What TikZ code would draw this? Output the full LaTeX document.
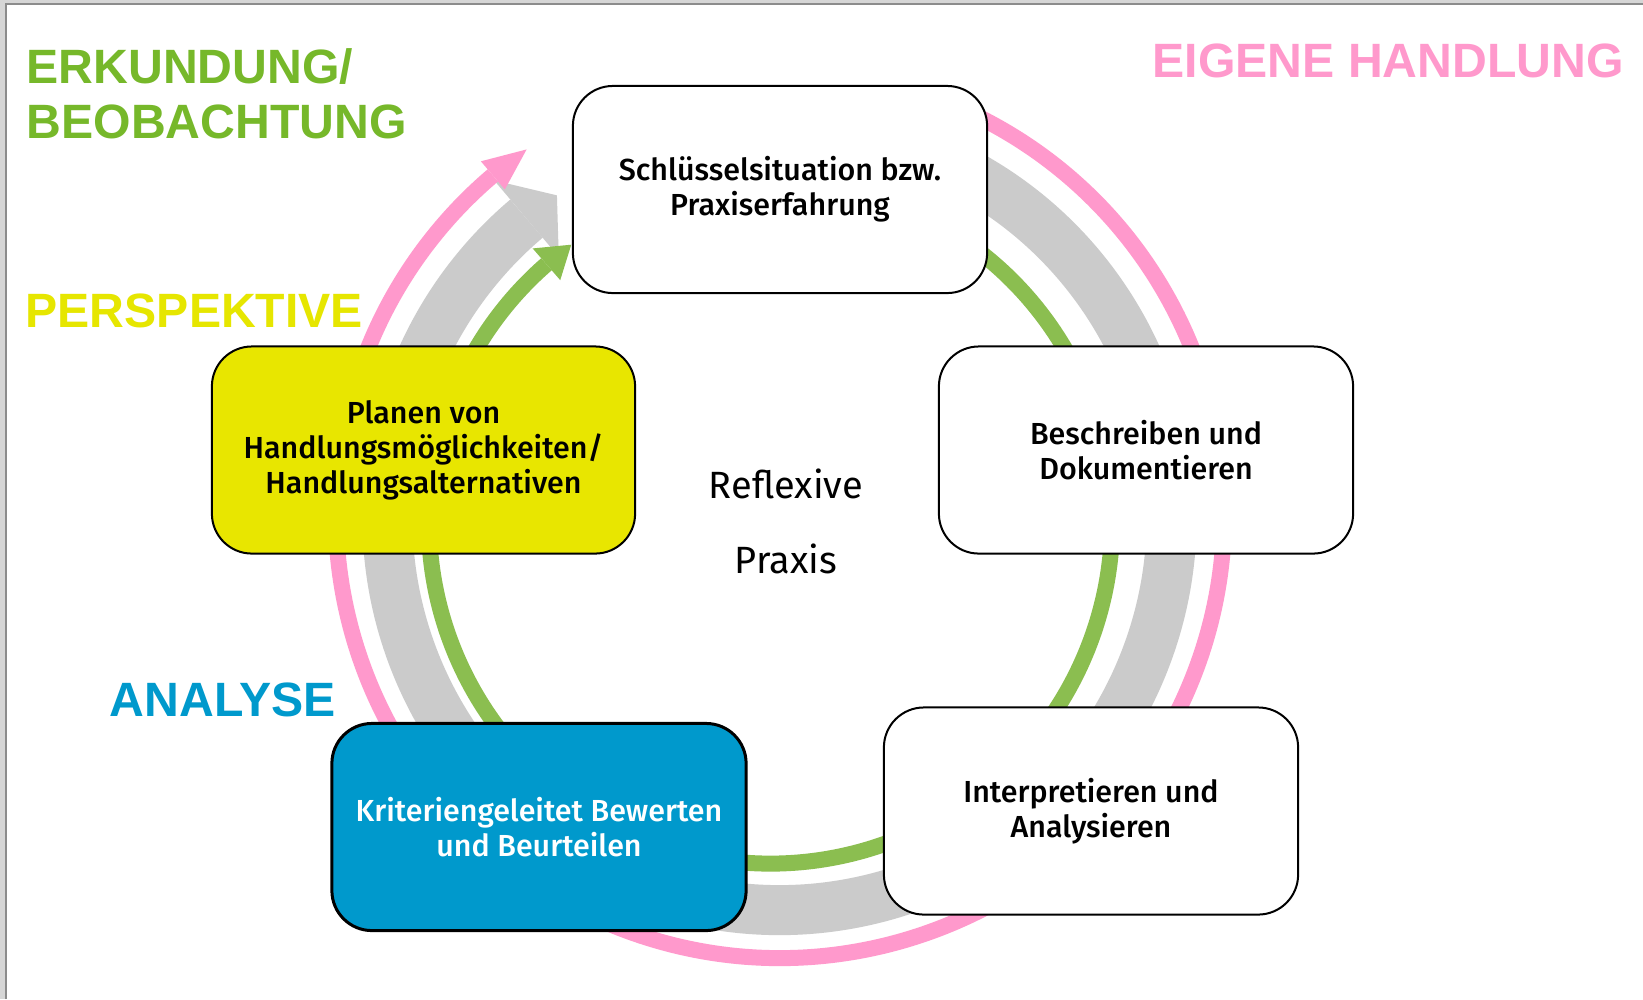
\documentclass[tikz,border=0pt]{standalone}
\usepackage{fontspec}
\setmainfont{Fira Sans}[BoldFont={Fira Sans Medium}]
\newfontfamily\headfont{Liberation Sans}

\definecolor{ringpink}{HTML}{FF99CC}
\definecolor{ringgray}{HTML}{CBCBCB}
\definecolor{ringgreen}{HTML}{8BBE50}
\definecolor{titlegreen}{HTML}{76B82A}
\definecolor{titleyellow}{HTML}{E6E600}
\definecolor{titleblue}{HTML}{0099CC}
\definecolor{boxyellow}{HTML}{E8E600}
\definecolor{boxblue}{HTML}{0099CC}
\definecolor{framebg}{HTML}{D6D6D6}
\definecolor{frameline}{HTML}{8C8C8C}

\tikzset{
  stage/.style={draw=black, line width=0.02cm, rounded corners=0.4cm, fill=white,
    minimum width=4.14cm, minimum height=2.07cm, align=center,
    font=\fontsize{8.65}{10}\selectfont\bfseries},
  heading/.style={anchor=base west, inner sep=0pt,
    font=\headfont\fontsize{13.7}{15.6}\selectfont\bfseries},
}

\begin{document}
\begin{tikzpicture}[x=0.01cm, y=-0.01cm]
    \useasboundingbox (0,0) rectangle (1643,999);

    % rahmen
    \fill[framebg] (0,0) rectangle (1643,999);
    \fill[white] (6,4) rectangle (1643,999);
    \draw[frameline, line width=0.02cm] (6,999) -- (6,4) -- (1643,4);

    % mittelpunkte der ringe
    \coordinate (cp) at (780,514);
    \coordinate (cg) at (779.5,518);
    \coordinate (cn) at (770.5,522);

    % grauer ring
    \draw[ringgray, line width=0.5cm] (cg) ++(-70:392)
        arc[start angle=-70, end angle=229.8, radius=392];
    \fill[ringgray, shift={(cg)}] (229.8:342) -- (235.4:392) -- (229.8:442) -- cycle;

    % gruener ring
    \draw[ringgreen, line width=0.16cm] (cn) ++(-70:341.5)
        arc[start angle=-70, end angle=229, radius=341.5];
    \fill[ringgreen, shift={(cn)}] (229:320.5) -- (234.3:341.5) -- (229:362.5) -- cycle;

    % rosa ring
    \draw[ringpink, line width=0.16cm] (cp) ++(-66:444)
        arc[start angle=-66, end angle=229.7, radius=444];
    \fill[ringpink, shift={(cp)}] (229.7:425.5) -- (235.2:444) -- (229.7:462.5) -- cycle;

    % stationen
    \node[stage] (sit) at (780,189.5) {Schlüsselsituation bzw.\\Praxiserfahrung};
    \node[stage] (besch) at (1146,450) {Beschreiben und\\Dokumentieren};
    \node[stage] (interp) at (1091,811) {Interpretieren und\\Analysieren};
    \node[stage, fill=boxblue, text=white, line width=0.03cm] (bew) at (539,827)
        {Kriteriengeleitet Bewerten\\und Beurteilen};
    \node[stage, fill=boxyellow, minimum width=4.23cm] (plan) at (423.5,450)
        {Planen von\\Handlungsmöglichkeiten/\\Handlungsalternativen};

    % mitte
    \node[align=center, font=\fontsize{10.8}{21.3}\selectfont] (refl) at (786,521)
        {Reflexive\\Praxis};

    % ueberschriften
    \node[heading, text=titlegreen] (erk) at (26,83) {ERKUNDUNG/};
    \node[heading, text=titlegreen] (beob) at (26,138) {BEOBACHTUNG};
    \node[heading, text=ringpink] (eigen) at (1152,77) {EIGENE HANDLUNG};
    \node[heading, text=titleyellow] (persp) at (25,327) {PERSPEKTIVE};
    \node[heading, text=titleblue] (anal) at (109,716) {ANALYSE};
\end{tikzpicture}
\end{document}
